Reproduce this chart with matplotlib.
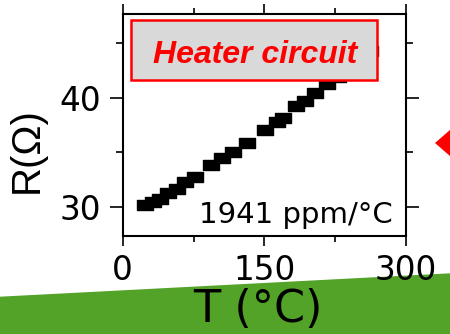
import matplotlib
matplotlib.use('Agg')
import matplotlib.pyplot as plt
from matplotlib.patches import Polygon, Rectangle
from matplotlib.ticker import MultipleLocator

# data
temp = [24, 32, 40, 48, 57, 66, 77, 94, 105, 117, 132, 151, 163, 170, 184, 193, 204, 216, 228, 241, 252, 262]
res = [30.2, 30.5, 30.8, 31.3, 31.7, 32.3, 32.8, 33.9, 34.5, 35.05, 35.9, 37.0, 37.8, 38.15,
       39.2, 39.7, 40.4, 41.2, 41.9, 42.6, 43.3, 44.2]
x_ticks = [0, 150, 300]
y_ticks = [30, 40]
tcr_label = '1941 ppm/°C'
box_label = 'Heater circuit'

plt.rcParams['font.family'] = ['DejaVu Sans']

fig = plt.figure(figsize=(4.5, 3.34), dpi=100)
ax = fig.add_axes([0.2727, 0.2934, 0.6296, 0.6647])

# squares look stretched sideways in the picture
rect_marker = [(-1.4, -1), (1.4, -1), (1.4, 1), (-1.4, 1), (-1.4, -1)]
ax.plot(temp, res, linestyle='none', marker=rect_marker, markersize=11,
        color='black', zorder=2)

ax.set_xlim(0, 300)
ax.set_ylim(27.4, 47.6)
ax.set_xticks(x_ticks)
ax.set_yticks(y_ticks)
ax.xaxis.set_minor_locator(MultipleLocator(75))
ax.yaxis.set_minor_locator(MultipleLocator(5))

for s in ax.spines.values():
    s.set_linewidth(1.5)
ax.tick_params(which='both', direction='out', top=True, right=True, width=1.2,
               labelsize=23.5)
ax.tick_params(axis='x', which='major', length=7.2, pad=6)
ax.tick_params(axis='x', which='minor', length=4.3)
ax.tick_params(axis='y', which='major', length=9.4, pad=6)
ax.tick_params(axis='y', which='minor', length=5)

ax.set_xlabel('T (°C)', fontsize=32)
ax.xaxis.set_label_coords(0.476, -0.235)
ax.set_ylabel('R(Ω)', fontsize=29, family=['Liberation Sans', 'DejaVu Sans'])
ax.yaxis.set_label_coords(-0.27, 0.387)

ax.text(0.954, 0.06, tcr_label, transform=ax.transAxes, ha='right', va='baseline',
        fontsize=21)

ax.add_patch(Rectangle((0.029, 0.703), 0.869, 0.27, transform=ax.transAxes,
                       facecolor='#D9D9D9', edgecolor='#FF0000', linewidth=1.8,
                       zorder=3, clip_on=False))
ax.text(0.468, 0.779, box_label, transform=ax.transAxes, ha='center', va='baseline',
        fontsize=23, fontweight='bold', fontstyle='italic', color='#FF0000',
        family=['Liberation Sans', 'DejaVu Sans'], zorder=4)

# slide decorations: green band and red arrow tip
fig.patches.append(Polygon([(0, 0.1117), (1, 0.1817), (1, 0), (0, 0)], closed=True,
                           transform=fig.transFigure, facecolor='#52A328',
                           edgecolor='none', zorder=-1))
fig.patches.append(Polygon([(435 / 450, 1 - 143 / 334), (1.005, 1 - 128 / 334),
                            (1.04, 1 - 143 / 334), (1.005, 1 - 158 / 334)], closed=True,
                           transform=fig.transFigure, facecolor='#FF0000',
                           edgecolor='none', zorder=5))

fig.savefig('out.png', dpi=100)
